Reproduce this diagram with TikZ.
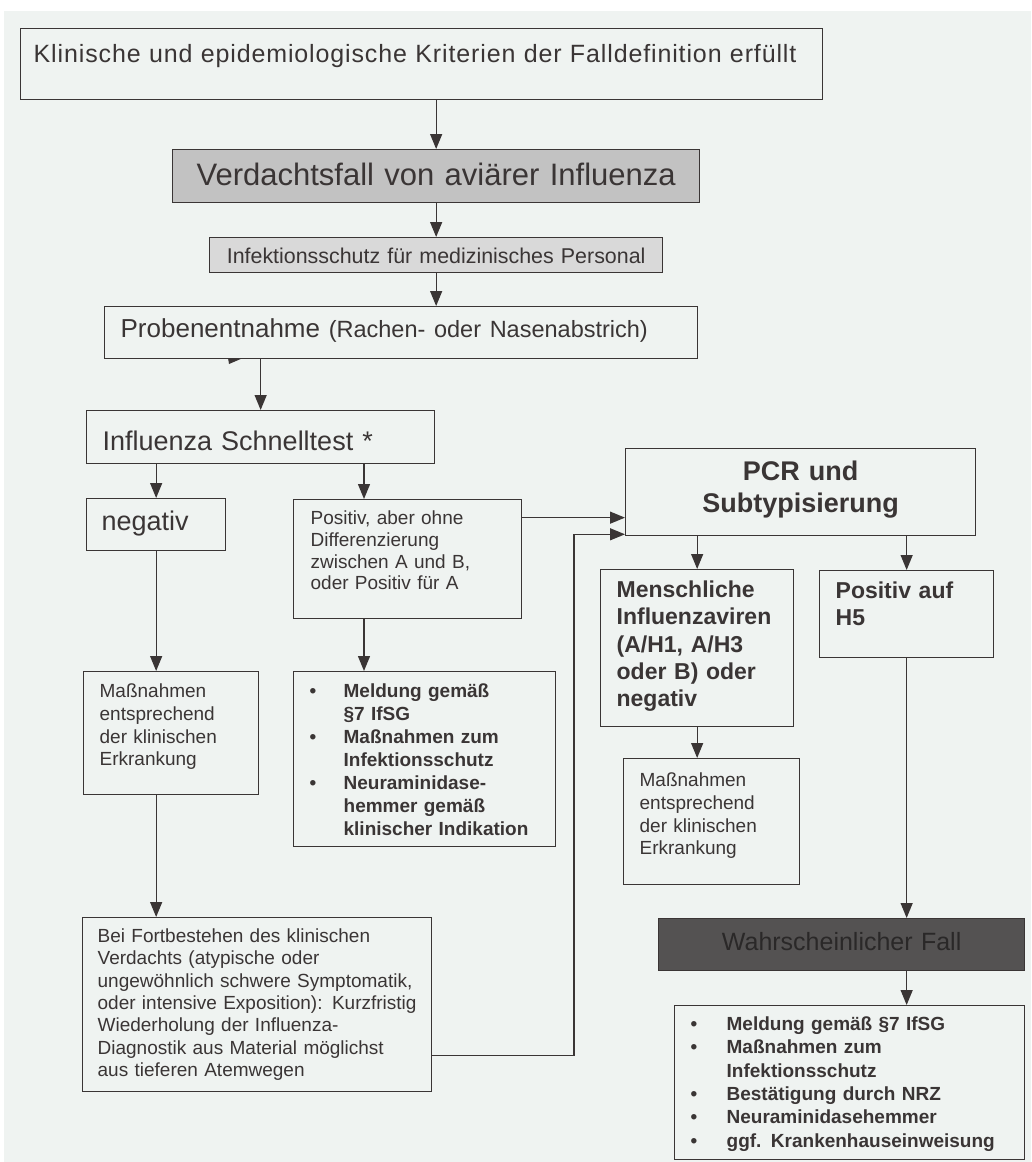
\documentclass[tikz,border=0pt]{standalone}
\usepackage{fontspec}
\setmainfont{Liberation Sans}
\usetikzlibrary{arrows.meta,calc,positioning}
\definecolor{tinte}{HTML}{3A3535}
\definecolor{papier}{HTML}{EFF3F1}
\definecolor{grau}{HTML}{C2C2C2}
\definecolor{hellgrau}{HTML}{D9D9D9}
\definecolor{dunkel}{HTML}{545252}
\definecolor{dunkeltext}{HTML}{2A2828}
\newcommand{\schrift}[2]{\fontsize{#1}{#2}\selectfont}
\newcommand{\pkt}[1][34pt]{\makebox[#1][l]{\textbullet}}

\begin{document}
\begin{tikzpicture}[x=1pt,y=-1pt,
  kasten/.style={draw=tinte,line width=1.3pt,fill=papier,anchor=north west,inner ysep=0pt,inner xsep=16pt,align=left,text=tinte},
  mitte/.style={kasten,inner xsep=0pt,align=center},
  pfeil/.style={draw=tinte,line width=1.3pt,-{Triangle[length=15pt,width=12pt]}}]

\useasboundingbox (0,0) rectangle (1031,1162);
\fill[white] (0,0) rectangle (1031,1162);
\fill[papier] (4,11) rectangle (1031,1162);

% linke Spalte
\node[kasten,text width=776pt,inner xsep=13pt,text height=34pt,text depth=37pt,font=\schrift{25}{29}\addfontfeatures{LetterSpace=3.5}] (krit) at (20,28) {Klinische und epidemiologische Kriterien der Falldefinition erfüllt};
\node[mitte,fill=grau,text width=527pt,text height=36pt,text depth=17pt,font=\schrift{31}{36}] (verd) at (172,149) {Verdachtsfall von aviärer Influenza};
\node[mitte,fill=hellgrau,text width=453pt,text height=26pt,text depth=9pt,font=\schrift{21.4}{25}] (schutz) at (209,237) {Infektionsschutz für medizinisches Personal};
\node[kasten,text width=561pt,text height=31pt,text depth=21pt,font=\schrift{26}{30}] (probe) at (104,306) {Probenentnahme {\schrift{23.5}{28}(Rachen- oder Nasenabstrich)}};
\node[kasten,text width=316pt,text height=40pt,text depth=13pt,font=\schrift{27}{32}] (schnell) at (86,410) {Influenza Schnelltest *};
\node[kasten,text width=109pt,inner xsep=15pt,text height=32pt,text depth=20pt,font=\schrift{27}{32}] (neg) at (86,498) {negativ};
\node[kasten,text width=194pt,inner xsep=17pt,text height=25pt,text depth=94pt,font=\schrift{19}{21.7}] (posab) at (293,499) {Positiv, aber ohne\\ Differenzierung\\ zwischen A und B,\\ oder Positiv für A};
\node[kasten,text width=143pt,text height=26pt,text depth=97pt,font=\schrift{19}{22.7}] (massL) at (83,671) {Maßnahmen\\ entsprechend\\ der klinischen\\ Erkrankung};
\node[kasten,text width=230pt,text height=26pt,text depth=149pt,font=\schrift{19}{22.9}\bfseries] (meldL) at (293,671) {\pkt Meldung gemäß\\ \hspace*{34pt}§7 IfSG\\ \pkt Maßnahmen zum\\ \hspace*{34pt}Infektionsschutz\\ \pkt Neuraminidase-\\ \hspace*{34pt}hemmer gemäß\\ \hspace*{34pt}klinischer Indikation};
\node[kasten,text width=319pt,inner xsep=15pt,text height=25pt,text depth=149pt,font=\schrift{19}{22.3}] (fort) at (82,917) {Bei Fortbestehen des klinischen\\ Verdachts (atypische oder\\ ungewöhnlich schwere Symptomatik,\\ oder intensive Exposition): Kurzfristig\\ Wiederholung der Influenza-\\ Diagnostik aus Material möglichst\\ aus tieferen Atemwegen};

% rechte Spalte
\node[mitte,text width=350pt,text height=32pt,text depth=55pt,font=\schrift{27}{32}\bfseries] (pcr) at (625,448) {PCR und\\ Subtypisierung};
\node[kasten,text width=161pt,text height=28pt,text depth=129pt,font=\schrift{23}{27.3}\bfseries] (mensch) at (600,569) {Menschliche\\ Influenzaviren\\ (A/H1, A/H3\\ oder B) oder\\ negativ};
\node[kasten,text width=142pt,text height=28pt,text depth=59pt,font=\schrift{23}{27.3}\bfseries] (hfuenf) at (819,570) {Positiv auf\\ H5};
\node[kasten,text width=144pt,text height=28pt,text depth=98pt,font=\schrift{19}{22.7}] (massR) at (623,758) {Maßnahmen\\ entsprechend\\ der klinischen\\ Erkrankung};
\node[mitte,fill=dunkel,text=dunkeltext,text width=366pt,text height=32pt,text depth=20pt,font=\schrift{25}{30}] (wahr) at (658,918) {Wahrscheinlicher Fall};
\node[kasten,text width=318pt,text height=25pt,text depth=129pt,font=\schrift{19}{23.3}\bfseries] (liste) at (674,1005) {\pkt[36pt]Meldung gemäß §7 IfSG\\ \pkt[36pt]Maßnahmen zum\\ \hspace*{36pt}Infektionsschutz\\ \pkt[36pt]Bestätigung durch NRZ\\ \pkt[36pt]Neuraminidasehemmer\\ \pkt[36pt]ggf. Krankenhauseinweisung};

% Verbindungen
\draw[pfeil] (verd.north |- krit.south) -- (verd.north);
\draw[pfeil] (verd.south) -- (verd.south |- schutz.north);
\draw[pfeil] (verd.south |- schutz.south) -- (verd.south |- probe.north);
\fill[tinte] (228,358) -- (243,358) -- (229,364) -- cycle;
\draw[pfeil] (schnell.north |- probe.south) -- (schnell.north);
\draw[pfeil] (neg.north |- schnell.south) -- (neg.north);
\coordinate (posIn) at ([xshift=71pt]posab.north west);
\draw[pfeil] (posIn |- schnell.south) -- (posIn);
\draw[pfeil] (neg.south) -- (neg.south |- massL.north);
\draw[pfeil] (posIn |- posab.south) -- (posIn |- meldL.north);
\draw[pfeil] (neg.south |- massL.south) -- (neg.south |- fort.north);
\coordinate (posOut) at ([yshift=41.5pt]posab.east);
\draw[pfeil] (posOut) -- (posOut -| pcr.west);
\coordinate (fortOut) at ([yshift=-51pt]fort.east);
\coordinate (pcrIn) at ([yshift=2pt]pcr.south west);
\draw[pfeil] (fortOut) -| ([xshift=-51pt]pcrIn) -- (pcrIn);
\draw[pfeil] (mensch.north |- pcr.south) -- (mensch.north);
\draw[pfeil] (hfuenf.north |- pcr.south) -- (hfuenf.north);
\draw[pfeil] (mensch.south) -- (mensch.south |- massR.north);
\draw[pfeil] (hfuenf.south) -- (hfuenf.south |- wahr.north);
\draw[pfeil] (hfuenf.south |- wahr.south) -- (hfuenf.south |- liste.north);

\end{tikzpicture}
\end{document}
